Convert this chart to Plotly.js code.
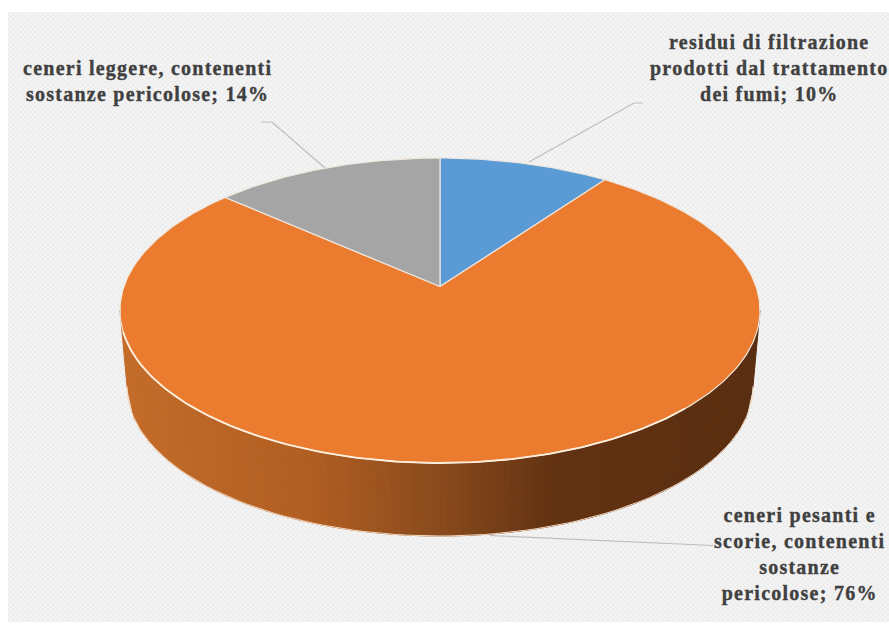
<!DOCTYPE html>
<html>
<head>
<meta charset="utf-8">
<script src="https://cdn.plot.ly/plotly-3.0.1.min.js"></script>
<style>
html,body{margin:0;padding:0;background:#fff;}
#wrap{position:relative;width:889px;height:625px;overflow:hidden;}
#paper{position:absolute;left:8px;top:12px;width:881px;height:610px;background-color:#ebebeb;
  background-image:radial-gradient(circle at center,#f6f6f6 0,#f6f6f6 1px,rgba(246,246,246,0) 1.6px),radial-gradient(circle at center,#f6f6f6 0,#f6f6f6 1px,rgba(246,246,246,0) 1.6px);
  background-size:5px 5px;background-position:0 0,2.5px 2.5px;}
#chart{position:absolute;left:0;top:0;width:889px;height:625px;}
.annotation-text{letter-spacing:1.25px;stroke:#404040;stroke-width:0.35px;}
</style>
</head>
<body>
<div id="wrap"><div id="paper"></div><div id="chart"></div></div>
<script>
// Data
var categories = [
  "residui di filtrazione<br>prodotti dal trattamento<br>dei fumi; 10%",
  "ceneri pesanti e<br>scorie, contenenti<br>sostanze<br>pericolose; 76%",
  "ceneri leggere, contenenti<br>sostanze pericolose; 14%"
];
var shares = [10, 76.5, 13.5];
var sliceColors = ["#5b9bd5", "#ea7b2f", "#a5a5a5"];

// Perspective geometry of the drawn disc
var CX = 440, CY = 310.5, RX = 320, RY = 152.5, TILT = 0.157;
var BX = 440, BY = 386.5, BRX = 313, BRY = 149.5;

function project(deg) {
  var a = deg * Math.PI / 180, sx = Math.sin(a), sy = Math.cos(a);
  var d = 1 + TILT * sy;
  return [sx * Math.sqrt(1 - TILT * TILT) / d, (sy + TILT) / d];
}
function rim(t, cx, cy, rx, ry) {
  return [cx + rx * Math.sin(t), cy - ry * Math.cos(t)];
}
var traces = [];

// Side wall, shaded from left to right
var wallStops = [[0, [196,108,42]], [0.3, [176,94,34]], [0.5, [138,74,28]], [0.68, [98,50,18]], [1, [90,46,16]]];
function wallColor(f) {
  for (var i = 1; i < wallStops.length; i++) {
    if (f <= wallStops[i][0]) {
      var a = wallStops[i-1], b = wallStops[i], k = (f - a[0]) / (b[0] - a[0]);
      return "rgb(" + [0,1,2].map(function (c) { return Math.round(a[1][c] + k * (b[1][c] - a[1][c])); }).join(",") + ")";
    }
  }
  return "rgb(90,46,16)";
}
var STRIPS = 90;
for (var s = 0; s < STRIPS; s++) {
  var t0 = 1.5 * Math.PI - Math.acos(1 - 2 * s / STRIPS), t1 = 1.5 * Math.PI - Math.acos(1 - 2 * (s + 1) / STRIPS);
  var p0 = rim(t0, CX, CY, RX, RY), p1 = rim(t1, CX, CY, RX, RY);
  var q1 = rim(t1, BX, BY, BRX, BRY), q0 = rim(t0, BX, BY, BRX, BRY);
  var col = wallColor((s + 0.5) / STRIPS);
  traces.push({type: "scatter", mode: "lines", x: [p0[0], p1[0], q1[0], q0[0], p0[0]], y: [p0[1], p1[1], q1[1], q0[1], p0[1]],
    fill: "toself", fillcolor: col, line: {color: col, width: 1}, hoverinfo: "skip", showlegend: false});
}
// Light edge under the wall
var hx = [], hy = [];
for (var d = 90; d <= 270; d += 2) {
  var h = rim(d * Math.PI / 180, BX, BY, BRX, BRY);
  hx.push(h[0]); hy.push(h[1]);
}
traces.push({type: "scatter", mode: "lines", x: hx, y: hy, line: {color: "#f6d9bf", width: 1}, hoverinfo: "skip", showlegend: false});

// Top slices
var total = shares.reduce(function (a, b) { return a + b; }, 0), start = 0;
shares.forEach(function (v, i) {
  var end = start + v / total * 360, xs = [CX], ys = [CY - RY * TILT];
  for (var d = start; d < end; d += 1) {
    var p = project(d);
    xs.push(CX + RX * p[0]); ys.push(CY - RY * p[1]);
  }
  var pe = project(end);
  xs.push(CX + RX * pe[0]); ys.push(CY - RY * pe[1]);
  xs.push(CX); ys.push(CY - RY * TILT);
  traces.push({type: "scatter", mode: "lines", x: xs, y: ys, fill: "toself", fillcolor: sliceColors[i],
    line: {color: "#efe6dc", width: 1.2}, name: categories[i], hoverinfo: "skip", showlegend: false});
  start = end;
});
// Brighter rim on the front edge
var fx = [], fy = [];
for (var d = 130; d <= 262; d += 1) {
  var r = rim(d * Math.PI / 180, CX, CY, RX, RY);
  fx.push(r[0]); fy.push(r[1]);
}
traces.push({type: "scatter", mode: "lines", x: fx, y: fy, line: {color: "#fdeedd", width: 1.8}, hoverinfo: "skip", showlegend: false});

// Leader lines
var leaders = [
  {x: [529, 634, 643], y: [162, 103, 103]},
  {x: [325, 272, 261], y: [168, 122, 122]},
  {x: [490, 713], y: [535.5, 545.5]}
];
leaders.forEach(function (l) {
  traces.push({type: "scatter", mode: "lines", x: l.x, y: l.y, line: {color: "#bdbdbd", width: 1.2}, hoverinfo: "skip", showlegend: false});
});

var annotations = [
  {x: 769.5, y: 68, text: categories[0]},
  {x: 799.5, y: 554, text: categories[1]},
  {x: 147, y: 81, text: categories[2]}
].map(function (a) {
  return {x: a.x, y: a.y, xref: "x", yref: "y", text: "<b>" + a.text.split("<br>").join("</b><br><b>") + "</b>", showarrow: false, align: "center",
    xanchor: "center", yanchor: "middle", font: {family: "Liberation Serif", size: 20, color: "#404040"}};
});

var layout = {
  width: 889, height: 625, margin: {l: 0, r: 0, t: 0, b: 0},
  paper_bgcolor: "rgba(0,0,0,0)", plot_bgcolor: "rgba(0,0,0,0)",
  xaxis: {range: [0, 889], visible: false, fixedrange: true},
  yaxis: {range: [625, 0], visible: false, fixedrange: true},
  showlegend: false, annotations: annotations
};
Plotly.newPlot("chart", traces, layout, {displayModeBar: false, staticPlot: true});
</script>
</body>
</html>
